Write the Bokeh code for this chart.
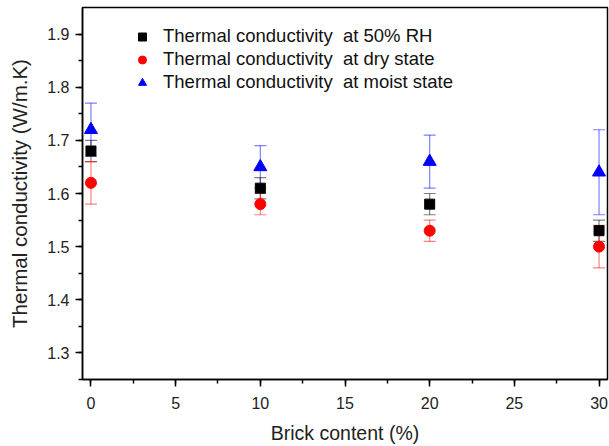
from bokeh.plotting import figure
from bokeh.models import ColumnDataSource, Whisker, TeeHead, Legend, LegendItem, SingleIntervalTicker
from bokeh.embed import file_html
from bokeh.resources import INLINE

brick = [0, 10, 20, 30]
rh50 = [1.68, 1.61, 1.58, 1.53]
rh50_err = [0.02, 0.02, 0.02, 0.02]
dry = [1.62, 1.58, 1.53, 1.50]
dry_err = [0.04, 0.02, 0.02, 0.04]
moist = [1.72, 1.65, 1.66, 1.64]
moist_err = [0.05, 0.04, 0.05, 0.08]

labels = ["Thermal conductivity  at 50% RH",
          "Thermal conductivity  at dry state",
          "Thermal conductivity  at moist state"]

FONT = "Liberation Sans"

p = figure(width=609, height=446, x_range=(-0.5, 30.5), y_range=(1.25, 1.95),
           output_backend="svg", toolbar_location=None,
           min_border_left=82, min_border_right=2, min_border_top=7, min_border_bottom=66)
p.xgrid.visible = False
p.ygrid.visible = False
p.outline_line_color = "black"
p.outline_line_width = 1.5
p.outline_line_alpha = 1

p.xaxis.ticker = SingleIntervalTicker(interval=5, num_minor_ticks=2)
p.yaxis.ticker = SingleIntervalTicker(interval=0.1, num_minor_ticks=2)
for ax in (p.xaxis[0], p.yaxis[0]):
    ax.axis_line_color = "black"
    ax.axis_line_width = 1.5
    ax.major_tick_line_color = "black"
    ax.major_tick_line_width = 1.5
    ax.minor_tick_line_color = "black"
    ax.minor_tick_line_width = 1.5
    ax.major_tick_out = 7
    ax.major_tick_in = 0
    ax.minor_tick_out = 4
    ax.minor_tick_in = 0
    ax.major_label_text_font = FONT
    ax.major_label_text_font_size = "16px"
    ax.major_label_text_color = "#222222"
    ax.axis_label_text_font = FONT
    ax.axis_label_text_font_style = "normal"
    ax.axis_label_text_color = "#222222"
p.xaxis.axis_label = "Brick content (%)"
p.yaxis.axis_label = "Thermal conductivity (W/m.K)"
p.xaxis.axis_label_text_font_size = "19.5px"
p.yaxis.axis_label_text_font_size = "20.5px"
p.xaxis.major_label_standoff = 10
p.xaxis.axis_label_standoff = 10
p.yaxis.major_label_standoff = 6
p.yaxis.axis_label_standoff = 13

series = [
    (rh50, rh50_err, "black", "square", 10),
    (dry, dry_err, "red", "circle", 11),
    (moist, moist_err, "blue", "triangle", 13),
]

for vals, errs, col, marker, size in series:
    src = ColumnDataSource(dict(
        x=brick,
        lo=[v - e for v, e in zip(vals, errs)],
        hi=[v + e for v, e in zip(vals, errs)]))
    w = Whisker(source=src, base="x", lower="lo", upper="hi",
                line_color=col, line_alpha=0.5, line_width=1.2,
                upper_head=TeeHead(size=12, line_color=col, line_alpha=0.5, line_width=1.2),
                lower_head=TeeHead(size=12, line_color=col, line_alpha=0.5, line_width=1.2))
    p.add_layout(w)

items = []
for (vals, errs, col, marker, size), lab in zip(series, labels):
    src = ColumnDataSource(dict(x=brick, y=vals))
    r = p.scatter("x", "y", source=src, marker=marker, size=size,
                  fill_color=col, line_color=col)
    items.append(LegendItem(label=lab, renderers=[r]))

legend = Legend(items=items, location=(50, 286), border_line_color=None,
                background_fill_alpha=0, padding=0, margin=0, spacing=1,
                glyph_width=20, glyph_height=21, label_height=21,
                label_standoff=11, label_text_font=FONT,
                label_text_font_size="18.5px", label_text_color="#111111")
p.add_layout(legend)

open("out.html", "w").write(file_html(p, INLINE))
